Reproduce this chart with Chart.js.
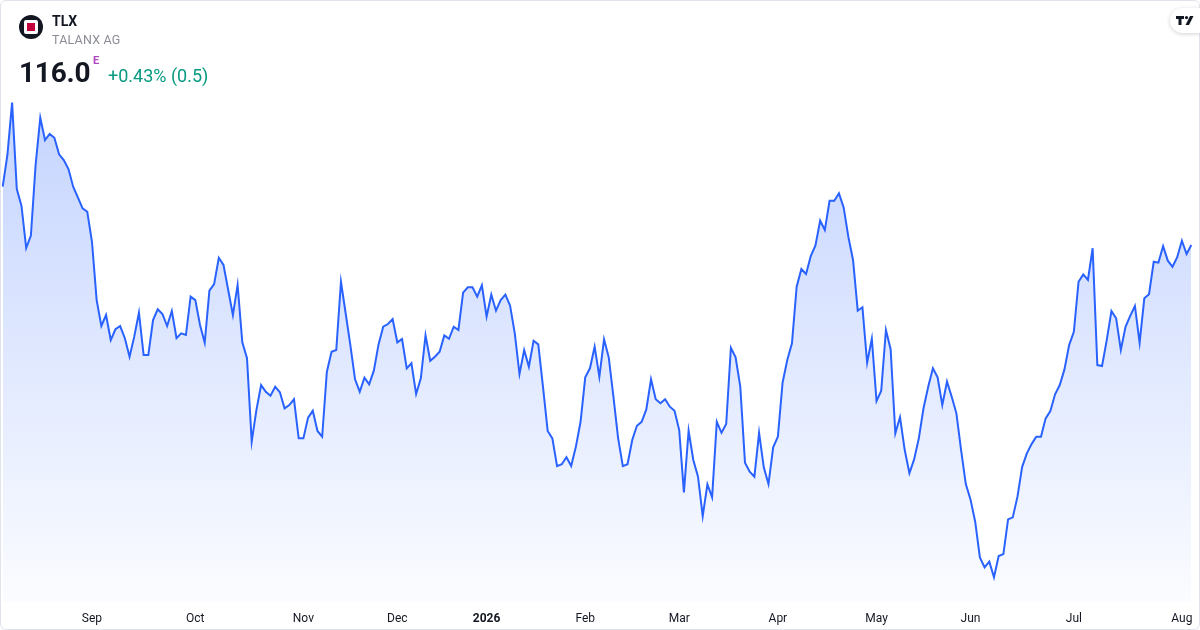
<!DOCTYPE html>
<html>
<head>
<meta charset="utf-8">
<script src="https://cdn.jsdelivr.net/npm/chart.js@4/dist/chart.umd.min.js"></script>
<style>
  html, body { margin: 0; padding: 0; background: #fff; }
  body { width: 1200px; height: 630px; position: relative; overflow: hidden; font-family: Roboto, "Open Sans", sans-serif; }
  .frame { position: absolute; left: 0; top: 0; width: 1198px; height: 628px; border: 1px solid #e0e3eb; border-radius: 6px; }
  #chartWrap { position: absolute; left: 0; top: 0; width: 1200px; height: 630px; }
  .logo { position: absolute; left: 19px; top: 15px; width: 24px; height: 24px; border-radius: 50%; background: #131722; }
  .logo .sq { position: absolute; left: 5px; top: 5px; width: 14px; height: 14px; background: #fff; border-radius: 2px; }
  .logo .sq div { position: absolute; left: 3px; top: 3px; width: 8px; height: 8px; background: #c2003b; }
  .sym { position: absolute; left: 52px; top: 13px; font-size: 14px; font-weight: bold; color: #131722; }
  .name { position: absolute; left: 52px; top: 32px; font-size: 12.5px; color: #8a8d96; letter-spacing: 0.2px; }
  .price { position: absolute; left: 19px; top: 56px; font-size: 28px; font-weight: bold; color: #131722; letter-spacing: -0.2px; }
  .flag { position: absolute; left: 93px; top: 54px; font-size: 11px; font-weight: bold; color: #ab47bc; }
  .chg { position: absolute; left: 108px; top: 65px; font-size: 18px; color: #089981; }
  .tv { position: absolute; right: 0; top: 8px; width: 30px; height: 25px; background: #fff; border-radius: 13px 0 0 13px; box-shadow: 0 1px 4px rgba(0,0,0,0.18); }
  .tv svg { position: absolute; left: 6px; top: 8px; }
</style>
</head>
<body>
<div id="chartWrap"><canvas id="priceChart" width="1200" height="630"></canvas></div>
<div class="frame"></div>
<div class="logo"><div class="sq"><div></div></div></div>
<div class="sym">TLX</div>
<div class="name">TALANX AG</div>
<div class="price">116.0</div>
<div class="flag">E</div>
<div class="chg">+0.43% (0.5)</div>
<div class="tv"><svg width="18" height="10" viewBox="0 0 18 10"><path d="M0 0h8v3H5.5v6h-3V3H0z" fill="#131722"/><circle cx="10.5" cy="1.6" r="1.6" fill="#131722"/><path d="M14 0h3.5l-4.5 9H9.5z" fill="#131722"/></svg></div>

<script>
// daily closes (Aug 2025 .. Aug 2026)
const prices = [
  119.24,121.00,123.91,119.11,118.17,115.83,116.52,120.44,123.07,121.83,
  122.17,121.96,121.04,120.72,120.22,119.24,118.65,118.04,117.85,116.18,
  112.94,111.50,112.11,110.72,111.32,111.50,110.82,109.79,110.91,112.24,
  109.89,109.89,111.83,112.43,112.17,111.50,112.33,110.82,111.09,111.00,
  113.13,112.94,111.56,110.57,113.46,113.83,115.29,114.89,113.50,112.11,
  113.78,110.59,109.71,105.07,106.83,108.22,107.85,107.63,108.13,107.82,
  106.93,107.11,107.43,105.26,
  105.26,106.41,106.79,105.67,105.35,108.96,110.07,110.17,113.96,112.21,
  110.44,108.54,107.85,108.63,108.26,109.02,110.48,111.46,111.61,111.89,
  110.59,110.78,109.15,109.43,107.72,108.59,110.98,109.57,109.79,110.07,
  110.98,110.79,111.46,111.28,113.35,113.65,113.65,113.13,113.76,112.02,
  113.24,112.35,112.94,113.24,112.63,111.09,108.83,110.17,109.24,110.68,
  110.48,108.13,105.67,105.26,103.72,103.82,104.21,103.72,104.79,106.18,
  108.65,109.15,110.35,108.68,
  110.76,109.76,107.57,105.26,103.72,103.82,105.17,105.96,106.18,106.87,
  108.54,107.43,107.21,107.43,107.02,106.79,105.72,102.26,105.68,104.06,
  103.13,100.94,102.71,101.98,106.18,105.57,106.06,110.29,109.76,108.13,
  103.91,103.41,103.13,105.57,103.65,102.72,104.76,105.35,108.35,109.61,
  110.54,113.68,114.67,114.39,115.39,115.98,117.35,116.83,118.46,118.46,
  118.87,118.09,116.46,115.17,112.35,112.54,109.46,110.79,107.33,107.91,
  111.28,110.21,105.54,106.43,
  104.61,103.32,104.09,105.26,106.93,108.13,109.15,108.65,107.11,108.41,
  107.57,106.65,104.61,102.72,101.87,100.63,98.65,98.09,98.41,97.54,
  98.72,98.83,100.76,100.87,102.02,103.68,104.43,104.94,105.35,105.35,
  106.37,106.78,107.71,108.22,109.09,110.44,111.18,113.96,114.37,114.06,
  115.82,109.33,109.28,110.72,112.33,111.93,110.17,111.46,112.06,112.61,
  110.57,113.04,113.26,115.07,115.02,115.94,115.13,114.79,115.32,116.24,
  115.50,116.00
];

// first trading day of each month (index into prices) and its label
const tickIdx   = [19, 41, 64, 84, 103, 124, 144, 165, 186, 206, 228, 251];
const tickNames = ['Sep', 'Oct', 'Nov', 'Dec', '2026', 'Feb', 'Mar', 'Apr', 'May', 'Jun', 'Jul', 'Aug'];

const yMin = 96.17;
const yMax = 124.61;

const categories = prices.map((p, i) => i);

function areaFill(c) {
  const area = c.chart.chartArea;
  if (!area) return 'rgba(41,98,255,0.15)';
  const g = c.chart.ctx.createLinearGradient(0, area.top, 0, area.bottom);
  g.addColorStop(0, 'rgba(41,98,255,0.28)');
  g.addColorStop(1, 'rgba(41,98,255,0.02)');
  return g;
}

const canvas = document.getElementById('priceChart');
new Chart(canvas.getContext('2d'), {
  type: 'line',
  data: {
    labels: categories,
    datasets: [{
      data: prices,
      borderColor: '#2962ff',
      borderWidth: 2,
      backgroundColor: areaFill,
      fill: 'start',
      pointRadius: 0,
      tension: 0
    }]
  },
  options: {
    responsive: false,
    animation: false,
    devicePixelRatio: 1,
    layout: { padding: { left: 2.7, right: 8.7, top: 90, bottom: 0 } },
    plugins: { legend: { display: false }, tooltip: { enabled: false } },
    scales: {
      x: {
        grid: { display: false },
        border: { display: false },
        afterFit: (scale) => {
          // keep the line running edge to edge, axis strip 28px tall
          scale.paddingLeft = 0;
          scale.paddingRight = 0;
          scale.height = 28;
        },
        ticks: {
          autoSkip: false,
          maxRotation: 0,
          padding: 2,
          color: '#131722',
          font: (ctx) => ({ family: 'Roboto', size: 12, weight: (ctx.tick && ctx.tick.label === '2026') ? 'bold' : 'normal' }),
          callback: function (val, i) {
            const k = tickIdx.indexOf(i);
            return k >= 0 ? tickNames[k] : '';
          }
        }
      },
      y: { display: false, min: yMin, max: yMax }
    }
  }
});
</script>
</body>
</html>
